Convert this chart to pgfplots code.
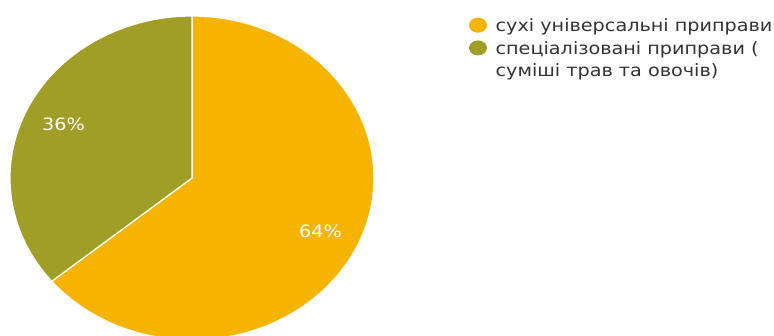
\documentclass[border=0pt]{standalone}
\usepackage{fontspec}
\setmainfont{DejaVu Sans}[FakeStretch=1.13]
\usepackage{pgfplots}
\pgfplotsset{compat=1.18}
\definecolor{pieY}{HTML}{F4B400}
\definecolor{pieO}{HTML}{A09E27}
\definecolor{legtxt}{HTML}{333333}
\newcommand{\ls}{\rule[-6.5bp]{0pt}{22bp}}
\begin{document}
\begin{tikzpicture}
\useasboundingbox (0,0) rectangle (774bp,-336bp);
% values (percent)
\def\valA{64}
\def\valB{36}
\pgfmathsetmacro{\endA}{90-\valA*3.6}
\pgfmathsetmacro{\midA}{90-\valA*1.8}
\pgfmathsetmacro{\midB}{90+\valB*1.8}
\begin{axis}[
  at={(10bp,-340bp)}, anchor=south west,
  scale only axis, width=364bp, height=324bp,
  xmin=-1, xmax=1, ymin=-1, ymax=1,
  hide axis, clip=false,
  legend style={
    at={(axis description cs:1.26099,0.99938)}, anchor=north west,
    draw=none, fill=none, inner sep=0pt, outer sep=0pt,
    row sep=5.7bp,
    font=\fontsize{17bp}{21bp}\selectfont\color{legtxt},
    nodes={inner sep=0pt, anchor=base west},
  },
  legend cell align=left,
  legend image code/.code={%
    \path[#1, draw=none] (9bp,6.5bp) ellipse [x radius=9bp, y radius=7.5bp];
    \path (26bp,0bp);
  },
]
\addplot[fill=pieY, draw=white, line width=1.2bp, domain={\endA}:90, samples=160, variable=\t]
  ({cos(\t)},{sin(\t)}) -- (axis cs:0,0) -- cycle;
\addlegendentry{\begin{tabular}[t]{@{}l@{}}\ls сухі універсальні приправи\end{tabular}}
\addplot[fill=pieO, draw=white, line width=1.2bp, domain=90:{\endA+360}, samples=100, variable=\t]
  ({cos(\t)},{sin(\t)}) -- (axis cs:0,0) -- cycle;
\addlegendentry{\begin{tabular}[t]{@{}l@{}}\ls спеціалізовані приправи (\\\ls суміші трав та овочів)\end{tabular}}
\node[text=white, font=\fontsize{17bp}{19bp}\selectfont] at (axis cs:{0.78*cos(\midB)},{0.78*sin(\midB)}) {36\%};
\node[text=white, font=\fontsize{17bp}{19bp}\selectfont] at (axis cs:{0.78*cos(\midA)},{0.78*sin(\midA)}) {64\%};
\end{axis}
\end{tikzpicture}
\end{document}
